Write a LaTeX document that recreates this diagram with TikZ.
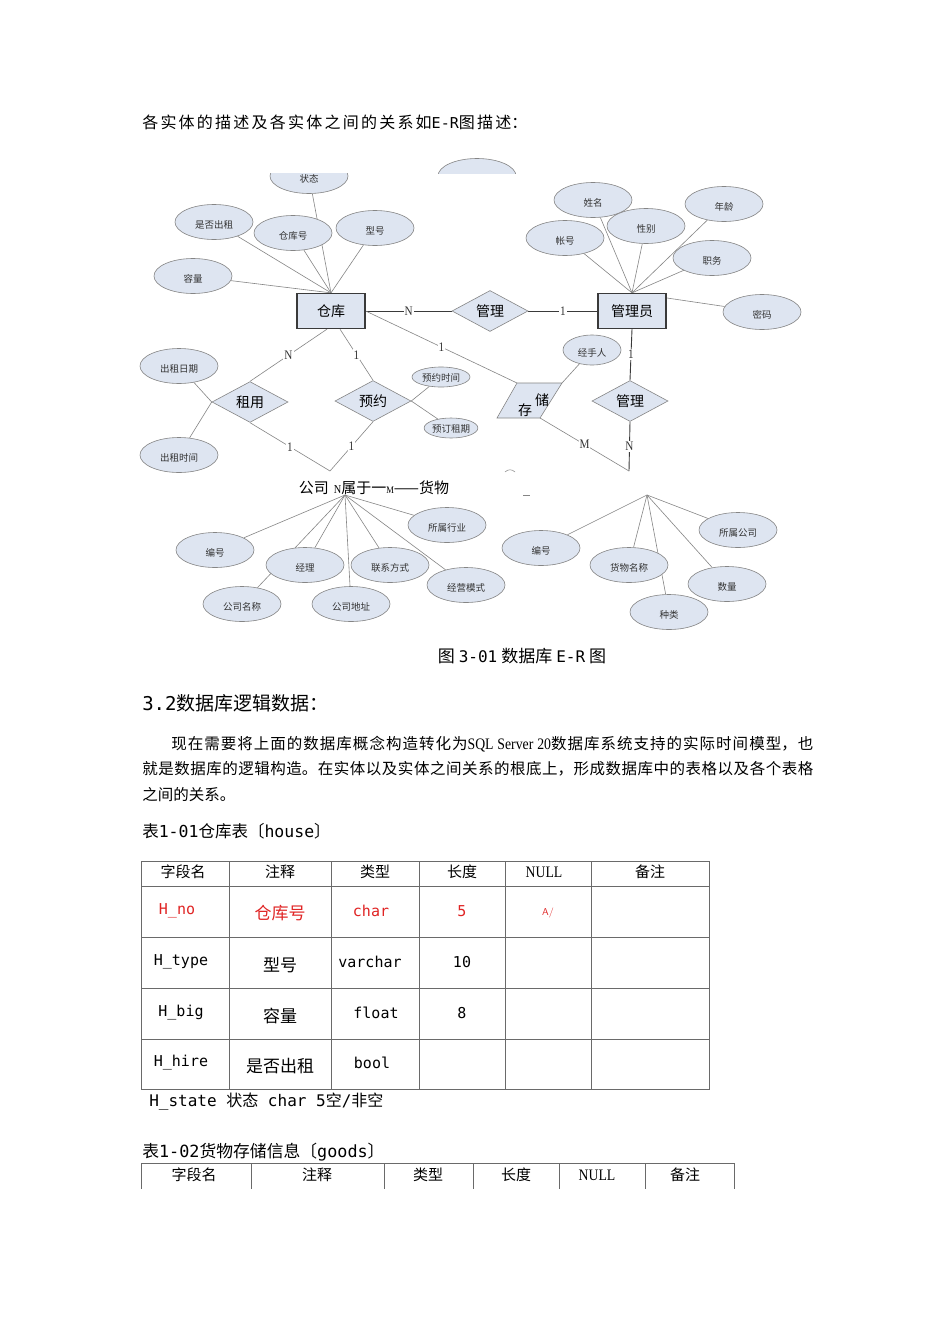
\documentclass[tikz,border=0pt]{standalone}
\usepackage{fontspec}
\setmainfont{Liberation Serif}
\setmonofont{DejaVu Sans Mono}
\newfontfamily\cjk{Noto Sans CJK SC}
\newfontfamily\narrowserif[FakeStretch=0.86]{Liberation Serif}
\usetikzlibrary{shapes.geometric,backgrounds}
\XeTeXlinebreaklocale "zh"
\XeTeXlinebreakskip=0pt plus 4pt
\definecolor{erfill}{HTML}{DEE5F1}
\definecolor{erline}{HTML}{858585}
\definecolor{erdark}{HTML}{3A3A3A}
\definecolor{tabgray}{HTML}{6A6A6A}
\definecolor{hired}{HTML}{E02424}
\newcommand{\fsz}[1]{\fontsize{#1}{#1}\selectfont}
\newcommand{\spread}[2]{\parbox{#1}{\parfillskip=0pt\relax\noindent #2}}

\begin{document}
\begin{tikzpicture}[x=1pt,y=-1pt,line width=.6pt,
  attr/.style={ellipse,draw=erline,fill=erfill,minimum width=78pt,minimum height=35pt,
    inner sep=0pt,text height=12pt,text depth=0pt,text=black!80,font=\cjk\fsz{9.5}},
  ent/.style={draw=erdark,line width=1.3pt,fill=erfill,minimum width=68pt,minimum height=35pt,
    inner sep=0pt,font=\cjk\fsz{14}},
  rel/.style={diamond,draw=erline,fill=erfill,minimum width=76pt,minimum height=37pt,
    inner sep=0pt,font=\cjk\fsz{14}},
  relbox/.style={draw=erline,fill=erfill},
  link/.style={erline,line width=.6pt},
  heavy/.style={erdark,line width=.9pt},
  card/.style={fill=white,inner sep=1pt,text=black!80,font=\narrowserif\fsz{13}},
  txt/.style={inner sep=0pt,anchor=west},
  tabline/.style={tabgray,line width=.8pt},
  codecell/.style={inner sep=0pt,font=\ttfamily\fsz{15}},
  cjkcell/.style={inner sep=0pt,font=\cjk\fsz{17}},
  headcell/.style={inner sep=0pt,font=\cjk\fsz{15}}]
\useasboundingbox (0,0) rectangle (950,1344);

\node[txt] (intro) at (142,122) {\spread{385pt}{\cjk\fsz{16}各实体的描述及各实体之间的关系如\mbox{\ttfamily\fsz{15}E-R}图描述：}};

% E-R diagram
\begin{scope}
\clip (420,150) rectangle (530,173);
\node[attr] (topcut) at (477,176) {};
\end{scope}
\begin{scope}
\clip (250,173) rectangle (370,230);
\node[attr] (zt) at (309,176) {状态};
\end{scope}
\node[attr] (sfcz) at (214,222) {是否出租};
\node[attr] (ckh) at (293,233) {仓库号};
\node[attr] (xh) at (375,228) {型号};
\node[attr] (rl) at (193,276) {容量};
\node[ent] (wh) at (331,311) {仓库};
\node[rel] (mg1) at (490,311) {管理};
\node[ent] (mgr) at (632,311) {管理员};
\node[attr] (xm) at (593,200) {姓名};
\node[attr] (xb) at (646,226) {性别};
\node[attr] (nl) at (724,204) {年龄};
\node[attr] (zh) at (565,238) {帐号};
\node[attr] (zw) at (712,258) {职务};
\node[attr] (mm) at (762,312) {密码};
\node[attr] (czrq) at (179,366) {出租日期};
\node[attr] (czsj) at (179,455) {出租时间};
\node[rel] (rent) at (250,402) {租用};
\node[rel] (book) at (373,401) {预约};
\node[attr,minimum width=58pt,minimum height=20pt,text height=8pt] (yysj) at (441,377) {预约时间};
\node[attr,minimum width=52pt,minimum height=20pt,text height=8pt] (ydzq) at (451,428) {预订租期};
\node[attr,minimum width=58pt,minimum height=30pt] (jsr) at (592,350) {经手人};
\node[rel] (mg2) at (630,401) {管理};
\coordinate (stsw) at (497,418);
\coordinate (stse) at (540,418);
\coordinate (stne) at (562,383);
\coordinate (stnw) at (517,383);
\draw[relbox] (stsw) -- (stse) -- (stne) -- (stnw) -- cycle;
\node[inner sep=0pt,font=\cjk\fsz{14}] (st1) at (525,410) {存};
\node[inner sep=0pt,font=\cjk\fsz{14}] (st2) at (542,400) {储};
\coordinate (cut1) at (330,471);
\coordinate (cut2) at (629,471);
\draw[erline,line width=.5pt] (505,472) .. controls (508,469) and (512,469) .. (515,472);
\draw[erline,line width=.5pt] (523,495) -- (530,495);

\node[inner sep=0pt] (ofrel) at (374,488) {{\cjk\fsz{15}公司}\hspace{5pt}{\narrowserif\fsz{12}N}{\cjk\fsz{15}属于一}{\narrowserif\fsz{10}M}{\cjk\fsz{15}——货物}};
\coordinate (co) at (345,495);
\coordinate (gd) at (647,495);
\node[attr] (bhL) at (215,550) {编号};
\node[attr] (jl) at (305,565) {经理};
\node[attr] (gsmc) at (242,604) {公司名称};
\node[attr] (gsdz) at (351,604) {公司地址};
\node[attr] (lxfs) at (390,565) {联系方式};
\node[attr] (sshy) at (447,525) {所属行业};
\node[attr] (jyms) at (466,585) {经营模式};
\node[attr] (bhR) at (541,548) {编号};
\node[attr] (hwmc) at (629,565) {货物名称};
\node[attr] (zl) at (669,612) {种类};
\node[attr] (sl) at (727,584) {数量};
\node[attr] (ssgs) at (738,530) {所属公司};

\begin{scope}[on background layer]
\fill[white] (0,0) rectangle (950,1344);
\foreach \a in {zt,sfcz,ckh,xh,rl} \draw[link] (wh.north) -- (\a);
\foreach \a in {xm,xb,nl,zh,zw,mm} \draw[link] (mgr.north) -- (\a);
\draw[heavy] (wh) -- node[card] {N} (mg1);
\draw[heavy] (mg1) -- node[card] {1} (mgr);
\draw[link] ([xshift=-4pt]wh.south) -- node[card] {N} (rent.north);
\draw[link] ([xshift=9pt]wh.south) -- node[card] {1} (book.north);
\draw[link] (wh.east) -- node[card] {1} (stnw);
\draw[link] (rent.south) -- node[card] {1} (cut1);
\draw[link] (book.south) -- node[card] {1} (cut1);
\draw[link] (rent.west) -- (czrq);
\draw[link] (rent.west) -- (czsj);
\draw[link] (book.east) -- (yysj);
\draw[link] (book.east) -- (ydzq);
\draw[link] (stne) -- (jsr);
\draw[heavy] (mgr.south) -- node[card] {1} (mg2.north);
\draw[heavy] (mg2.south) -- node[card] {N} (cut2);
\draw[link] (stse) -- node[card] {M} (cut2);
\foreach \a in {bhL,jl,gsmc,gsdz,lxfs,jyms,sshy} \draw[link] (co) -- (\a);
\foreach \a in {bhR,hwmc,zl,sl,ssgs} \draw[link] (gd) -- (\a);
\end{scope}

\node[inner sep=0pt] (cap) at (522,656) {\cjk\fsz{17}图\hspace{4pt}{\ttfamily\fsz{16}3-01}\hspace{4pt}数据库\hspace{4pt}{\ttfamily\fsz{16}E-R}\hspace{4pt}图};

% text
\node[txt] (sec) at (142,703) {{\ttfamily\fsz{19}3.2}{\cjk\fsz{19}数据库逻辑数据：}};
\node[inner sep=0pt,anchor=base west] (par) at (142,749) {\parbox[t]{671pt}{\cjk\fontsize{15.5}{25.5}\selectfont\noindent\hspace*{29pt}现在需要将上面的数据库概念构造转化为{\narrowserif\fsz{16}SQL~Server~20}数据库系统支持的实际时间模型，也\linebreak
就是数据库的逻辑构造。在实体以及实体之间关系的根底上，形成数据库中的表格以及各个表格\linebreak
之间的关系。}};
\node[txt] (tab1) at (142,831) {{\cjk\fsz{16.5}表}{\ttfamily\fsz{16.5}1-01}{\cjk\fsz{16.5}仓库表〔}{\ttfamily\fsz{16.5}house}{\cjk\fsz{16.5}〕}};

% table 1
\draw[tabline] (141,861) rectangle (709,1089);
\foreach \x in {229,331,419,505,591} \draw[tabline] (\x,861) -- (\x,1089);
\foreach \y in {886,937,988,1039} \draw[tabline] (141,\y) -- (709,\y);
\node[headcell] (a1) at (183,872) {字段名};
\node[headcell] (a2) at (280,872) {注释};
\node[headcell] (a3) at (375,872) {类型};
\node[headcell] (a4) at (462,872) {长度};
\node[inner sep=0pt,font=\narrowserif\fsz{16}] (a5) at (544,872) {NULL};
\node[headcell] (a6) at (650,872) {备注};
\node[codecell,text=hired] (b1) at (177,911) {H\_no};
\node[cjkcell,text=hired] (b2) at (280,913) {仓库号};
\node[codecell,text=hired] (b3) at (371,911) {char};
\node[codecell,text=hired] (b4) at (462,911) {5};
\node[inner sep=0pt,text=hired,font=\sffamily\fsz{10}] (b5) at (548,913) {A/};
\node[codecell] (c1) at (181,962) {H\_type};
\node[cjkcell] (c2) at (280,965) {型号};
\node[codecell] (c3) at (370,962) {varchar};
\node[codecell] (c4) at (462,962) {10};
\node[codecell] (d1) at (181,1013) {H\_big};
\node[cjkcell] (d2) at (280,1016) {容量};
\node[codecell] (d3) at (376,1013) {float};
\node[codecell] (d4) at (462,1013) {8};
\node[codecell] (e1) at (181,1063) {H\_hire};
\node[cjkcell] (e2) at (280,1066) {是否出租};
\node[codecell] (e3) at (372,1063) {bool};
\node[txt] (hstate) at (149,1102) {\ttfamily\fsz{16}H\_state {\cjk 状态} char 5{\cjk 空}/{\cjk 非空}};

% table 2
\node[txt] (tab2) at (142,1152) {{\cjk\fsz{16.8}表}{\ttfamily\fsz{16.8}1-02}{\cjk\fsz{16.8}货物存储信息〔}{\ttfamily\fsz{16.8}goods}{\cjk\fsz{16.8}〕}};
\draw[tabline] (141,1163) -- (734,1163);
\foreach \x in {141,251,384,473,559,645,734} \draw[tabline] (\x,1163) -- (\x,1189);
\node[headcell] (g1) at (194,1175) {字段名};
\node[headcell] (g2) at (317,1175) {注释};
\node[headcell] (g3) at (428,1175) {类型};
\node[headcell] (g4) at (516,1175) {长度};
\node[inner sep=0pt,font=\narrowserif\fsz{16}] (g5) at (597,1175) {NULL};
\node[headcell] (g6) at (685,1175) {备注};
\end{tikzpicture}
\end{document}
